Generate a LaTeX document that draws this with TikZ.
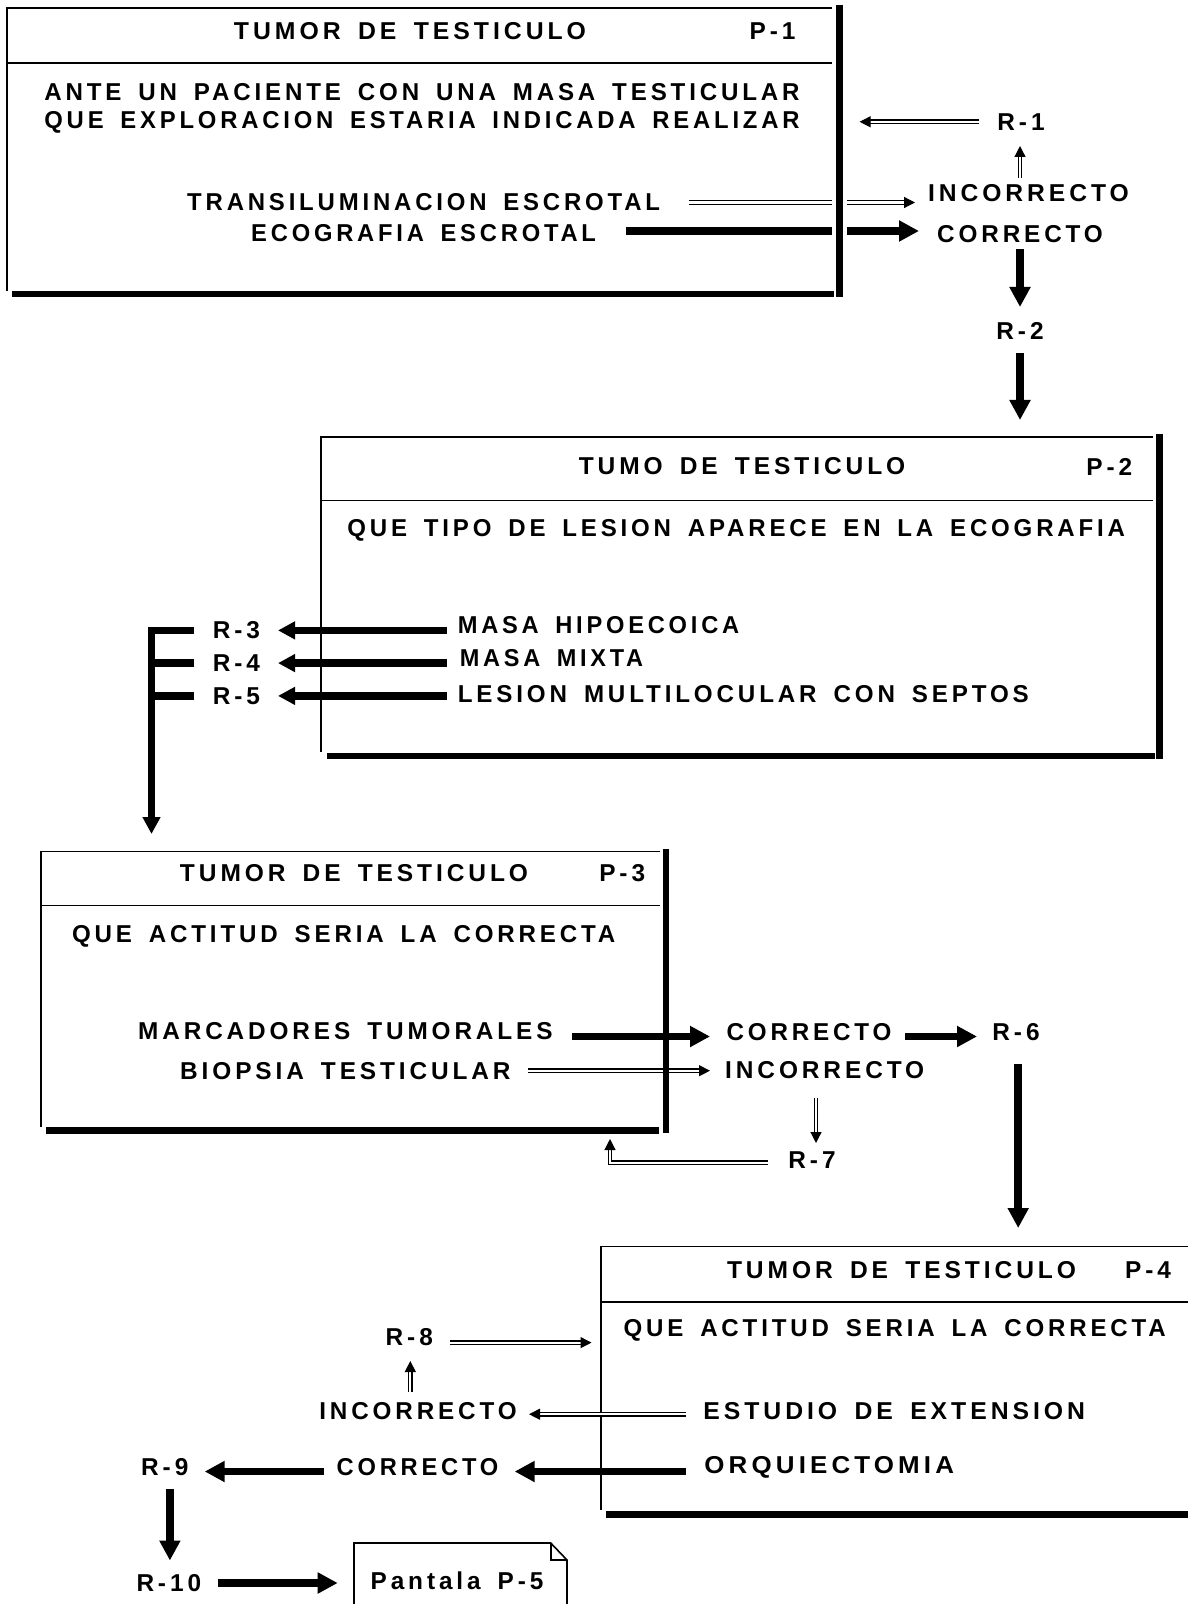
\documentclass[tikz,border=0pt]{standalone}
\usepackage{graphicx}
\usepackage{fontspec}
\setmainfont{Liberation Sans}
\newfontfamily\lab[LetterSpace=16,WordSpace=1.6]{Liberation Sans}
\usetikzlibrary{arrows.meta}
% set a line of text to a given width (in pt), keeping its height
\newcommand\fit[2]{\resizebox{#1pt}{\height}{#2}}

\begin{document}
\begin{tikzpicture}[x=0.5pt,y=-0.5pt,
  every node/.style={inner sep=0pt, font=\lab\bfseries\fontsize{12.2}{14}\selectfont},
  boxline/.style={line width=0.8pt},
  edge/.style={line width=3.3pt},
  bar/.style={line width=3.8pt},
  heavy/.style={line width=3.8pt, -{Triangle[length=10pt,width=10pt]}},
  heavysmall/.style={line width=3.8pt, -{Triangle[length=8.5pt,width=8.5pt]}},
  hollow/.style={double, double distance=1.1pt, line width=0.6pt,
                 -{Triangle[length=5.5pt,width=5.5pt]}},
  gap/.style={white, line width=7.5pt}]

\useasboundingbox (0,0) rectangle (1188,1604);

% ---------------- screen P-1 ----------------
\draw[boxline] (832,8) -- (7,8) -- (7,291);
\draw[boxline] (7,63) -- (832,63);
\draw[edge] (12,294) -- (834,294);

\node (t1)  at (410,31.3)   {\fit{176}{TUMOR DE TESTICULO}};
\node (n1)  at (772.6,31.3) {P-1};
\node[anchor=west] (q1a) at (44,92)  {\fit{377.6}{ANTE UN PACIENTE CON UNA MASA TESTICULAR}};
\node[anchor=west] (q1b) at (44,122) {\fit{377.6}{QUE EXPLORACION ESTARIA INDICADA REALIZAR}};
\node (o1a) at (423.6,202.6) {\fit{236.4}{TRANSILUMINACION ESCROTAL}};
\node (o1b) at (423.6,233.3) {\fit{172.4}{ECOGRAFIA ESCROTAL}};

\node (r1)   at (1021,121.8)   {R-1};
\node (inc1) at (1028.4,193.4) {\fit{100.3}{INCORRECTO}};
\node (cor1) at (1020,234.3)   {\fit{82.9}{CORRECTO}};
\node (r2)   at (1020,330.5)   {R-2};

\coordinate (o1aE) at (688.7,202.5);
\coordinate (inc1W) at (915,202.5);
\coordinate (o1bE) at (626,231);
\coordinate (cor1W) at (919,231);
\coordinate (r1W) at (979,121.8);
\coordinate (p1E) at (859.6,121.8);
\coordinate (inc1N) at (1020,178);
\coordinate (r1S) at (1020,146);
\coordinate (cor1S) at (1020,249);
\coordinate (r2N) at (1020,307);
\coordinate (r2S) at (1020,353);
\coordinate (p2N) at (1020,420);

\draw[hollow] (o1aE) -- (inc1W);
\draw[heavy] (o1bE) -- (cor1W);
\draw[hollow] (r1W) -- (p1E);
\draw[hollow] (inc1N) -- (r1S);
\draw[heavy] (cor1S) -- (r2N);
\draw[heavy] (r2S) -- (p2N);

% the heavy right edge of P-1 interrupts the lines that cross it
\draw[gap] (839.5,190) -- (839.5,245);
\draw[edge, line width=3.4pt] (839.5,5) -- (839.5,297);

% ---------------- screen P-2 ----------------
\draw[boxline] (1153,437) -- (321,437) -- (321,752);
\draw[boxline] (321,500.4) -- (1153,500.4);
\draw[edge] (327,756) -- (1155,756);
\draw[edge] (1159.4,434) -- (1159.4,759);

\node (t2) at (742,466.6)    {\fit{163.2}{TUMO DE TESTICULO}};
\node (n2) at (1109.3,466.6) {P-2};
\node[anchor=west] (q2) at (347,530) {\fit{388.8}{QUE TIPO DE LESION APARECE EN LA ECOGRAFIA}};
\node[anchor=west] (o2a) at (457.4,625.2) {\fit{140.7}{MASA HIPOECOICA}};
\node[anchor=west] (o2b) at (459.5,658)   {\fit{91.6}{MASA MIXTA}};
\node[anchor=west] (o2c) at (457.4,693.8) {\fit{285.5}{LESION MULTILOCULAR CON SEPTOS}};

\node (r3) at (236.4,630.4) {R-3};
\node (r4) at (236.4,663.1) {R-4};
\node (r5) at (236.4,695.9) {R-5};

\coordinate (o2aW) at (447,630.4);
\coordinate (o2bW) at (447,663.1);
\coordinate (o2cW) at (447,695.9);
\coordinate (r3E) at (278,630.4);
\coordinate (r4E) at (278,663.1);
\coordinate (r5E) at (278,695.9);
\coordinate (r3W) at (194.4,630.4);
\coordinate (r4W) at (194.4,663.1);
\coordinate (r5W) at (194.4,695.9);
\coordinate (spine4) at (151.5,663.1);
\coordinate (spine5) at (151.5,695.9);
\coordinate (p3N) at (151.5,834);

\draw[heavysmall] (o2aW) -- (r3E);
\draw[heavysmall] (o2bW) -- (r4E);
\draw[heavysmall] (o2cW) -- (r5E);
\draw[heavysmall, line join=miter] (r3W) -| (p3N);
\draw[bar] (r4W) -- (spine4);
\draw[bar] (r5W) -- (spine5);

% ---------------- screen P-3 ----------------
\draw[boxline] (660,851.4) -- (41,851.4) -- (41,1127);
\draw[boxline] (41,905.6) -- (660,905.6);
\draw[edge] (46,1130.5) -- (659,1130.5);

\node (t3) at (354,872.9)   {\fit{174}{TUMOR DE TESTICULO}};
\node (n3) at (622.2,872.9) {P-3};
\node[anchor=west] (q3) at (71.6,936.3) {\fit{271.7}{QUE ACTITUD SERIA LA CORRECTA}};
\node (o3a) at (345.4,1031.5) {\fit{207.2}{MARCADORES TUMORALES}};
\node (o3b) at (345.4,1071.4) {\fit{165.2}{BIOPSIA TESTICULAR}};

\node (cor3) at (809,1031.7)   {\fit{82.5}{CORRECTO}};
\node (inc3) at (824.7,1070.5) {\fit{99.5}{INCORRECTO}};
\node (r6)   at (1016,1031.7)  {R-6};
\node (r7)   at (812,1160)     {R-7};

\coordinate (o3aE) at (572,1036.5);
\coordinate (cor3W) at (710,1036.5);
\coordinate (o3bE) at (528,1070.7);
\coordinate (inc3W) at (710,1070.7);
\coordinate (cor3E) at (905,1036.5);
\coordinate (r6W) at (977,1036.5);
\coordinate (inc3S) at (816,1098);
\coordinate (r7N) at (816,1143);
\coordinate (r7W) at (768,1162.7);
\coordinate (p3S) at (610,1139);
\coordinate (r6S) at (1018.2,1064);
\coordinate (p4N) at (1018.2,1228);

\draw[heavy] (o3aE) -- (cor3W);
\draw[hollow] (o3bE) -- (inc3W);
\draw[heavy] (cor3E) -- (r6W);
\draw[hollow] (inc3S) -- (r7N);
\draw[hollow] (r7W) -| (p3S);
\draw[heavy] (r6S) -- (p4N);

\draw[edge] (666,849) -- (666,1133);

% ---------------- screen P-4 ----------------
\draw[boxline] (1188,1246.4) -- (600.7,1246.4) -- (600.7,1510);
\draw[boxline] (600.7,1301.7) -- (1188,1301.7);
\draw[edge] (606,1514.5) -- (1188,1514.5);

\node (t4) at (901.5,1270) {\fit{174.5}{TUMOR DE TESTICULO}};
\node (n4) at (1148,1270)  {P-4};
\node[anchor=west] (q4) at (623.2,1330.3) {\fit{271.1}{QUE ACTITUD SERIA LA CORRECTA}};
\node[anchor=west] (o4a) at (703,1411)   {\fit{190.8}{ESTUDIO DE EXTENSION}};
\node[anchor=west] (o4b) at (704,1467.4) {\fit{124.8}{ORQUIECTOMIA}};

\node (inc4) at (418,1411)     {\fit{98.7}{INCORRECTO}};
\node (cor4) at (417.5,1467.4) {\fit{80.8}{CORRECTO}};
\node (r8)   at (409.3,1337.5) {R-8};
\node (r9)   at (164.8,1467.4) {R-9};
\node (r10)  at (168.8,1583)   {R-10};

\coordinate (o4aW) at (685.6,1414.2);
\coordinate (inc4E) at (529,1414.2);
\coordinate (o4bW) at (685.6,1471.5);
\coordinate (cor4E) at (514.7,1471.5);
\coordinate (cor4W) at (324.4,1471.5);
\coordinate (r9E) at (204.7,1471.5);
\coordinate (r8E) at (450,1342.6);
\coordinate (p4W) at (591.5,1342.6);
\coordinate (inc4N) at (410.3,1391.7);
\coordinate (r8S) at (410.3,1361);
\coordinate (r9S) at (169.9,1489);
\coordinate (r10N) at (169.9,1560.5);
\coordinate (r10E) at (218,1583);
\coordinate (p5W) at (337.7,1583);

\draw[hollow] (o4aW) -- (inc4E);
\draw[heavy] (o4bW) -- (cor4E);
\draw[heavy] (cor4W) -- (r9E);
\draw[hollow] (r8E) -- (p4W);
\draw[hollow] (inc4N) -- (r8S);
\draw[heavy] (r9S) -- (r10N);
\draw[heavy] (r10E) -- (p5W);

% ---------------- page P-5 (folded corner) ----------------
\draw[boxline, line join=miter] (354,1620) -- (354,1543) -- (550.7,1543)
      -- (567,1560) -- (567,1620);
\draw[boxline] (550.7,1543) -- (550.7,1560) -- (567,1560);
\node (p5) at (457,1580.5) {\fit{86.3}{Pantala P-5}};

\end{tikzpicture}
\end{document}
